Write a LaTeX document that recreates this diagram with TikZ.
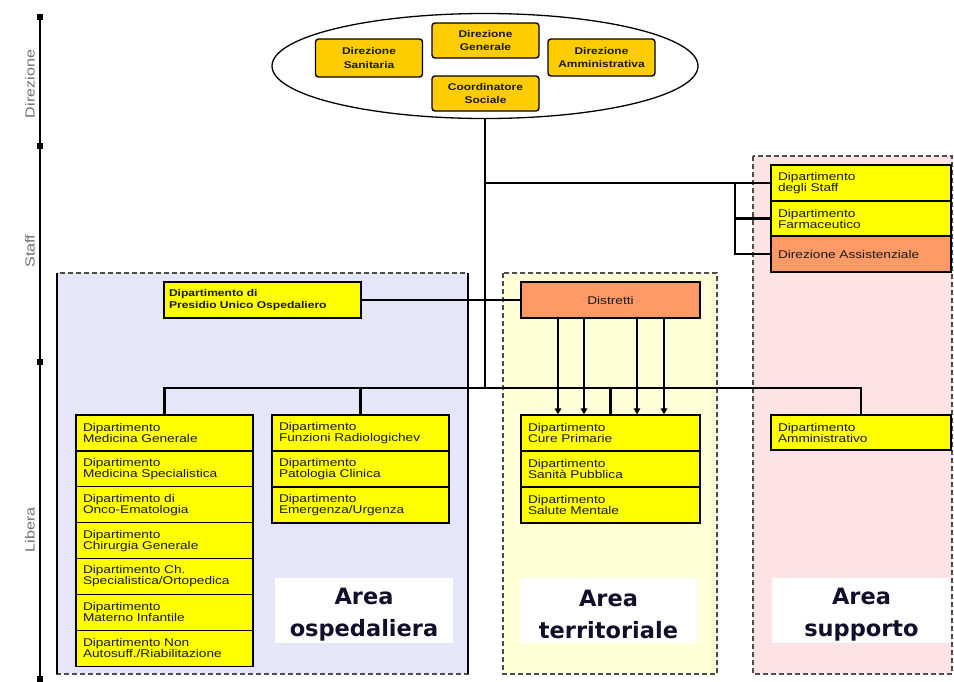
\documentclass[tikz,border=0pt]{standalone}
\usepackage{fontspec}
\setmainfont{Liberation Sans}
\newfontfamily\bxf[FakeStretch=1.22]{Liberation Sans}
\newfontfamily\areaf{DejaVu Sans}
\usetikzlibrary{shapes.geometric,arrows.meta}
\definecolor{dyel}{HTML}{FFFF00}
\definecolor{dorg}{HTML}{FFCC00}
\definecolor{dsal}{HTML}{FF9966}
\definecolor{rblue}{HTML}{E6E6FA}
\definecolor{ryel}{HTML}{FFFFD8}
\definecolor{rpink}{HTML}{FDE3E3}
\definecolor{txt}{HTML}{1A1A1A}
\definecolor{areac}{HTML}{10102A}
\definecolor{axc}{HTML}{707070}
\begin{document}
\begin{tikzpicture}[x=1pt,y=-1pt,
  region/.style={draw=black!70, dash pattern=on 5pt off 3pt, line width=1.2pt},
  dept/.style={draw=black, line width=1.4pt, fill=dyel, minimum width=177pt,
    minimum height=35.9pt, text width=163pt, inner xsep=7pt, inner ysep=0pt,
    align=left, font=\bxf\fontsize{11.2}{11}\selectfont, text=txt},
  dir/.style={draw=black, line width=1.4pt, fill=dorg, rounded corners=3pt,
    minimum width=107pt, minimum height=35pt, align=center, inner sep=0pt,
    font=\bxf\bfseries\fontsize{9.8}{13.5}\selectfont, text=txt},
  conn/.style={line width=2.8pt},
  arr/.style={line width=2.8pt, -{Triangle[length=6pt,width=6.5pt]}},
  thinarr/.style={line width=1.1pt, -{Triangle[length=6pt,width=6.5pt]}},
  areabox/.style={fill=white, minimum width=178pt, minimum height=65pt, inner sep=0pt},
  areatxt/.style={align=center, inner sep=0pt, text=areac,
    font=\areaf\bfseries\fontsize{22.5}{32}\selectfont},
  tick/.style={fill=black, minimum size=6pt, inner sep=0pt},
  axl/.style={rotate=90, text=axc, font=\bxf\fontsize{13.2}{13}\selectfont}]
\useasboundingbox (0,0) rectangle (954,681);
\fill[white] (0,0) rectangle (954,681);

% regions
\draw[region, fill=rblue] (57,273) rectangle (468,674);
\draw[line width=2.5pt] (57,273) -- (57,674);
\draw[line width=2.5pt] (468,273) -- (468,674);
\draw[region, fill=ryel] (503,273) rectangle (717,674);
\draw[region, fill=rpink] (753,156) rectangle (952,674);

% axis
\node[tick] (t1) at (40,17) {};
\node[tick] (t2) at (40,146) {};
\node[tick] (t3) at (40,362) {};
\node[tick] (t4) at (40,679) {};
\draw[line width=2.2pt] (t1.center) -- (t4.center);
\node[axl] (l1) at (30,84) {Direzione};
\node[axl] (l2) at (30,251) {Staff};
\node[axl] (l3) at (30,530) {Libera};

% direction ellipse
\node[ellipse, draw=black, fill=white, line width=1.3pt, minimum width=426pt,
  minimum height=105pt, inner sep=0pt] (ell) at (485,66) {};
\node[dir] (dg) at (485.5,40.5) {Direzione\\Generale};
\node[dir, minimum height=38pt] (ds) at (369,58) {Direzione\\Sanitaria};
\node[dir, minimum height=37pt] (da) at (601.5,57.5) {Direzione\\Amministrativa};
\node[dir] (cs) at (485.5,93.5) {Coordinatore\\Sociale};

% staff boxes
\node[dept, minimum width=180pt, text width=166pt] (staff) at (861,183) {Dipartimento\\degli Staff};
\node[dept, minimum width=180pt, text width=166pt, minimum height=35pt] (farm) at (861,218.5) {Dipartimento\\Farmaceutico};
\node[dept, minimum width=180pt, text width=166pt, fill=dsal] (assist) at (861,254) {Direzione Assistenziale};

% presidio and distretti
\node[dept, minimum width=197pt, text width=187pt, inner xsep=5pt,
  font=\bxf\bfseries\fontsize{9.9}{12}\selectfont] (pres) at (262.5,300) {Dipartimento di\\Presidio Unico Ospedaliero};
\node[dept, minimum width=179pt, text width=165pt, fill=dsal, align=center] (distr) at (610.5,300) {Distretti};

% hospital departments
\node[dept] (mg) at (164.5,432.9) {Dipartimento\\Medicina Generale};
\node[dept] (ms) at (164.5,468.8) {Dipartimento\\Medicina Specialistica};
\node[dept] (oe) at (164.5,504.7) {Dipartimento di\\Onco-Ematologia};
\node[dept] (cg) at (164.5,540.6) {Dipartimento\\Chirurgia Generale};
\node[dept] (ch) at (164.5,576.5) {Dipartimento Ch.\\Specialistica/Ortopedica};
\node[dept] (mi) at (164.5,612.4) {Dipartimento\\Materno Infantile};
\node[dept] (na) at (164.5,648.3) {Dipartimento Non\\Autosuff./Riabilitazione};

\node[dept] (fr) at (360.5,433) {Dipartimento\\Funzioni Radiologichev};
\node[dept] (pc) at (360.5,469) {Dipartimento\\Patologia Clinica};
\node[dept] (eu) at (360.5,505) {Dipartimento\\Emergenza/Urgenza};

% territorial departments
\node[dept, minimum width=179pt, text width=165pt] (cp) at (610.5,433) {Dipartimento\\Cure Primarie};
\node[dept, minimum width=179pt, text width=165pt] (sp) at (610.5,469) {Dipartimento\\Sanità Pubblica};
\node[dept, minimum width=179pt, text width=165pt] (sm) at (610.5,505) {Dipartimento\\Salute Mentale};

% support
\node[dept, minimum width=180pt, text width=166pt, minimum height=35pt] (am) at (861,432.5) {Dipartimento\\Amministrativo};

% area labels
\node[areabox] (a1) at (364,610.5) {};
\node[areabox, minimum width=177pt] (a2) at (608.5,610.5) {};
\node[areabox, minimum width=179pt] (a3) at (861.5,610.5) {};
\node[areatxt] (a1t) at ([yshift=-4pt]a1.center) {Area\\ospedaliera};
\node[areatxt] (a2t) at ([yshift=-4pt]a2.center) {Area\\territoriale};
\node[areatxt] (a3t) at ([yshift=-4pt]a3.center) {Area\\supporto};

% connectors
\coordinate (bus) at (485,388);
\coordinate (br) at (735,183);
\draw[conn] (ell.south) -- (bus);
\draw[conn] (bus |- staff.west) -- (staff.west);
\draw[conn] (assist.west) -| (br);
\draw[conn] (farm.west) -- (farm.west -| br);
\draw[conn] (pres.east) -- (distr.west);
\draw[conn] (mg.north) |- (bus) -| (am.north);
\draw[conn] (fr.north) -- (fr.north |- bus);
\draw[conn] (cp.north) -- (cp.north |- bus);
\draw[arr] ([xshift=-52.5pt]distr.south) -- ([xshift=-52.5pt]cp.north);
\draw[arr] ([xshift=-26.5pt]distr.south) -- ([xshift=-26.5pt]cp.north);
\draw[thinarr] ([xshift=26.5pt]distr.south) -- ([xshift=26.5pt]cp.north);
\draw[arr] ([xshift=53.5pt]distr.south) -- ([xshift=53.5pt]cp.north);
\end{tikzpicture}
\end{document}
